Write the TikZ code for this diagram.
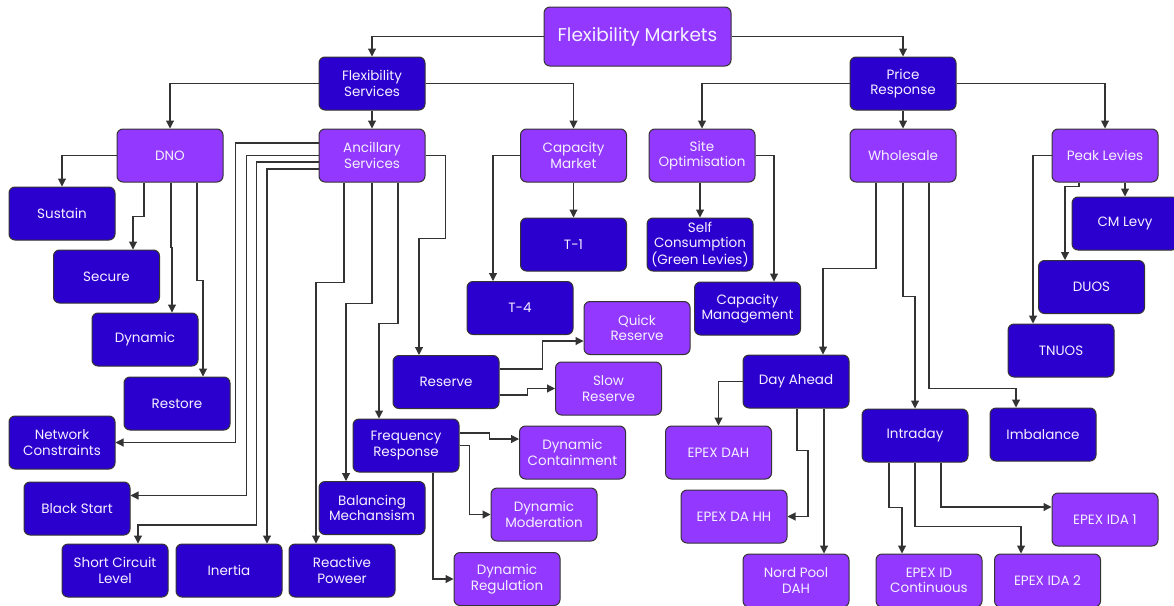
\documentclass[tikz,border=0pt]{standalone}
\usepackage{fontspec}
\setmainfont{Poppins}
\usetikzlibrary{arrows.meta}

\definecolor{flexDark}{HTML}{2B00CF}
\definecolor{flexLite}{HTML}{9238FF}
\definecolor{flexLine}{HTML}{333333}
\definecolor{flexText}{HTML}{F4F0FF}

\tikzstyle{darkNode} = [draw=flexLine, fill=flexDark, text=flexText, line width=1pt,
    rectangle, rounded corners=6pt, minimum width=106pt, minimum height=53pt,
    inner sep=2pt, align=center, font=\fontsize{13.5}{15.5}\selectfont]
\tikzstyle{liteNode} = [darkNode, fill=flexLite]
\tikzstyle{link} = [draw=flexLine, line width=1.1pt,
    -{Triangle[length=8pt,width=8pt]}]

\begin{document}
\begin{tikzpicture}[x=1pt, y=-1pt]

\fill[white] (0,0) rectangle (1174,605);
\useasboundingbox (0,0) rectangle (1174,605);
\clip (0,0) rectangle (1174,605);

\node[liteNode, minimum width=187pt, minimum height=59pt,
  font=\fontsize{18.5}{22}\selectfont] (FlexMarkets) at (637.5,36.5) [] {Flexibility Markets};
\node[darkNode] (FlexServices) at (372,83.5) [] {Flexibility\\Services};
  \node[liteNode] (DNO) at (170,155.5) [] {DNO};
    \node[darkNode] (Sustain) at (62,213.5) [] {Sustain};
    \node[darkNode] (Secure) at (106.5,276.5) [] {Secure};
    \node[darkNode] (Dynamic) at (145,339.5) [] {Dynamic};
    \node[darkNode] (Restore) at (177,403.5) [] {Restore};
  \node[liteNode] (Ancillary) at (372,155.5) [] {Ancillary\\Services};
    \node[darkNode] (NetConstraints) at (62,442.5) [] {Network\\Constraints};
    \node[darkNode] (BlackStart) at (77,508.5) [] {Black Start};
    \node[darkNode] (ShortCircuit) at (115,570.5) [] {Short Circuit\\Level};
    \node[darkNode] (Inertia) at (229,570.5) [] {Inertia};
    \node[darkNode] (Reactive) at (342,570.5) [] {Reactive\\Poweer};
    \node[darkNode] (Balancing) at (372,508) [] {Balancing\\Mechansism};
    \node[darkNode] (FreqResponse) at (406,445.5) [] {Frequency\\Response};
      \node[liteNode] (DynContainment) at (572.5,452.5) [] {Dynamic\\Containment};
      \node[liteNode] (DynModeration) at (544,514.5) [] {Dynamic\\Moderation};
      \node[liteNode] (DynRegulation) at (507,579) [] {Dynamic\\Regulation};
    \node[darkNode] (Reserve) at (446,382) [] {Reserve};
      \node[liteNode] (QuickReserve) at (637,328) [] {Quick\\Reserve};
      \node[liteNode] (SlowReserve) at (608.5,388.5) [] {Slow\\Reserve};
  \node[liteNode] (CapMarket) at (573.5,155.5) [] {Capacity\\Market};
    \node[darkNode] (TOne) at (573.5,244.5) [] {T-1};
    \node[darkNode] (TFour) at (520,308) [] {T-4};
\node[darkNode] (PriceResponse) at (903,83.5) [] {Price\\Response};
  \node[liteNode] (SiteOpt) at (702,155.5) [] {Site\\Optimisation};
    \node[darkNode] (SelfConsumption) at (700,244.5) [] {Self\\Consumption\\(Green Levies)};
    \node[darkNode] (CapManagement) at (747.5,308.5) [] {Capacity\\Management};
  \node[liteNode] (Wholesale) at (903,155.5) [] {Wholesale};
    \node[darkNode] (DayAhead) at (796,381.5) [] {Day Ahead};
      \node[liteNode] (EpexDAH) at (718.5,452.5) [] {EPEX DAH};
      \node[liteNode] (EpexDAHH) at (734,516.5) [] {EPEX DA HH};
      \node[liteNode] (NordPool) at (796,580.5) [] {Nord Pool\\DAH};
    \node[darkNode] (Intraday) at (915,435.5) [] {Intraday};
      \node[liteNode] (EpexIDA1) at (1105,519.5) [] {EPEX IDA 1};
      \node[liteNode] (EpexIDCont) at (929,580.5) [] {EPEX ID\\Continuous};
      \node[liteNode] (EpexIDA2) at (1047.5,580.5) [] {EPEX IDA 2};
    \node[darkNode] (Imbalance) at (1043,434.5) [] {Imbalance};
  \node[liteNode] (PeakLevies) at (1105,155.5) [] {Peak Levies};
    \node[darkNode] (CMLevy) at (1125,223.5) [] {CM Levy};
    \node[darkNode] (DUOS) at (1091.5,287) [] {DUOS};
    \node[darkNode] (TNUOS) at (1061,350.5) [] {TNUOS};

% top levels
\draw[link] (FlexMarkets.west) -| (FlexServices.north);
\draw[link] (FlexMarkets.east) -| (PriceResponse.north);
\draw[link] (FlexServices.west) -| (DNO.north);
\draw[link] (FlexServices.south) -- (Ancillary.north);
\draw[link] (FlexServices.east) -| (CapMarket.north);
\draw[link] (PriceResponse.west) -| (SiteOpt.north);
\draw[link] (PriceResponse.south) -- (Wholesale.north);
\draw[link] (PriceResponse.east) -| (PeakLevies.north);

% DNO
\draw[link] (DNO.west) -| (Sustain.north);
\draw[link] ([xshift=-26pt]DNO.south) -- ++(0,34) -| ([xshift=26.5pt]Secure.north);
\draw[link] ([xshift=1pt]DNO.south) -- ++(0,65) -| ([xshift=27pt]Dynamic.north);
\draw[link] ([xshift=27pt]DNO.south) -- ++(0,98) -| ([xshift=26pt]Restore.north);

% ancillary services
\draw[link] ([yshift=12.5pt]Ancillary.west) -- ++(-83,0) |- (NetConstraints.east);
\draw[link] (Ancillary.west) -- ++(-72,0) |- ([yshift=13pt]BlackStart.east);
\draw[link] ([yshift=-6.5pt]Ancillary.west) -- ++(-62,0) -- ++(0,363)
  -| ([xshift=23pt]ShortCircuit.north);
\draw[link] ([yshift=-13.5pt]Ancillary.west) -| ([xshift=38pt]Inertia.north);
\draw[link] ([xshift=-28pt]Ancillary.south) -- ++(0,100) -| ([xshift=-26pt]Reactive.north);
\draw[link] (Ancillary.south) -- ++(0,121) -| ([xshift=-26pt]Balancing.north);
\draw[link] ([xshift=26pt]Ancillary.south) -- ++(0,141) -| ([xshift=-27pt]FreqResponse.north);
\draw[link] (Ancillary.east) -- ++(20,0) -- ++(0,83) -| ([xshift=-27pt]Reserve.north);
\draw[link] ([yshift=13pt]Reserve.east) -- ++(43,0) |- ([yshift=-13pt]QuickReserve.west);
\draw[link] ([yshift=-13pt]Reserve.east) -- ++(28,0) |- (SlowReserve.west);
\draw[link] ([yshift=12.5pt]FreqResponse.east) -- ++(30,0) |- ([yshift=13.5pt]DynContainment.west);
\draw[link] (FreqResponse.east) -- ++(10,0) |- (DynModeration.west);
\draw[link] ([xshift=27pt]FreqResponse.south) |- (DynRegulation.west);

% capacity market
\draw[link] (CapMarket.west) -| ([xshift=-27pt]TFour.north);
\draw[link] (CapMarket.south) -- (TOne.north);

% site optimisation
\draw[link] (SiteOpt.south -| SelfConsumption.north) -- (SelfConsumption.north);
\draw[link] (SiteOpt.east) -| ([xshift=26.5pt]CapManagement.north);

% wholesale
\draw[link] ([xshift=-27pt]Wholesale.south) -- ++(0,86) -| ([xshift=27pt]DayAhead.north);
\draw[link] (Wholesale.south) -- ++(0,114) -| (Intraday.north);
\draw[link] ([xshift=26pt]Wholesale.south) -- ++(0,206) -| ([xshift=-27pt]Imbalance.north);
\draw[link] (DayAhead.west) -| (EpexDAH.north);
\draw[link] ([xshift=1pt]DayAhead.south) -- ++(0,42) -- ++(11,0) |- (EpexDAHH.east);
\draw[link] ([xshift=28pt]DayAhead.south) -- ([xshift=28pt]NordPool.north);
\draw[link] ([xshift=-26pt]Intraday.south) -- ++(0,45) -| ([xshift=-27pt]EpexIDCont.north);
\draw[link] (Intraday.south) -- ++(0,64) -| ([xshift=-26.5pt]EpexIDA2.north);
\draw[link] ([xshift=26pt]Intraday.south) |- ([yshift=12.5pt]EpexIDA1.west);

% peak levies
\draw[link] (PeakLevies.west) -| ([xshift=-28pt]TNUOS.north);
\draw[link] ([xshift=-26pt]PeakLevies.south) -- ++(0,4) -| ([xshift=-26.5pt]DUOS.north);
\draw[link] ([xshift=20pt]PeakLevies.south) -- (CMLevy.north);
\end{tikzpicture}
\end{document}
